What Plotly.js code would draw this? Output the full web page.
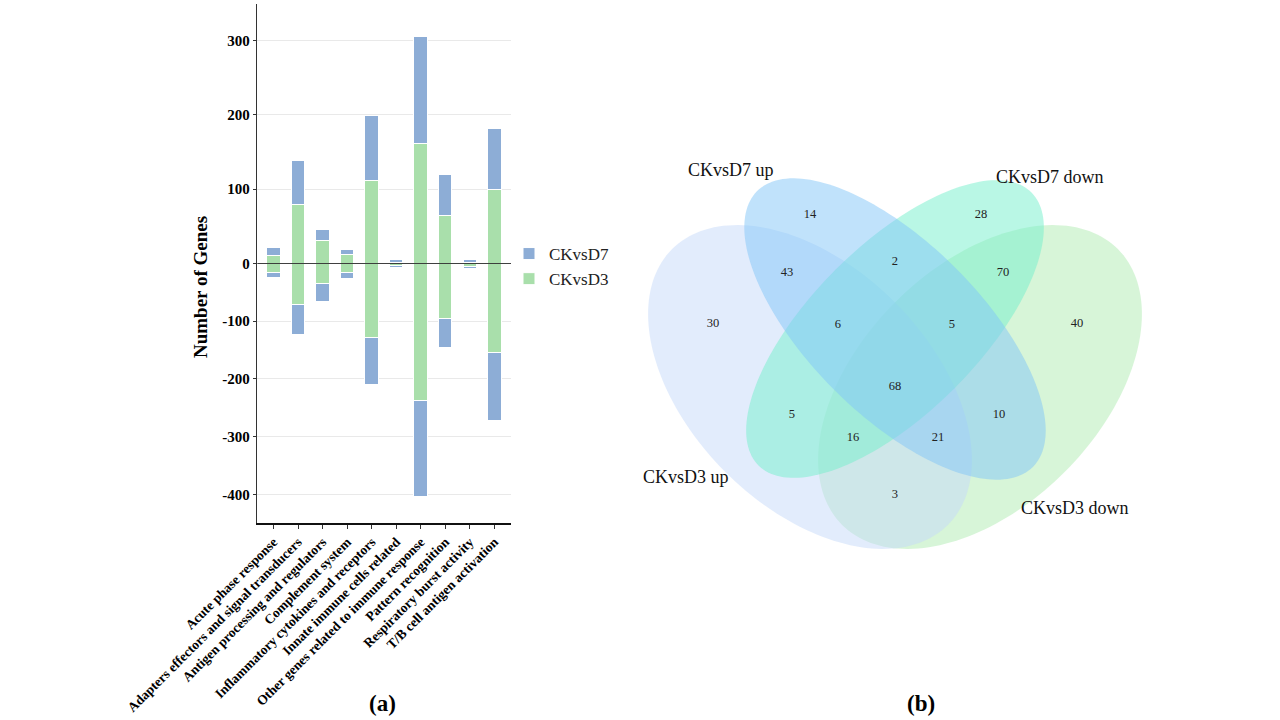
<!DOCTYPE html>
<html>
<head>
<meta charset="utf-8">
<script src="https://cdn.plot.ly/plotly-3.0.1.min.js"></script>
<style>html,body{margin:0;padding:0;background:#fff;}#chart{width:1280px;height:720px;}</style>
</head>
<body>
<div id="chart"></div>
<script>
// ---------- data (panel a) ----------
const categories = [
  "Acute phase response",
  "Adapters effectors and signal transducers",
  "Antigen processing and regulators",
  "Complement system",
  "Inflammatory cytokines and receptors",
  "Innate immune cells related",
  "Other genes related to immune response",
  "Pattern recognition",
  "Respiratory burst activity",
  "T/B cell antigen activation"
];
const d3Up   = [11, 79, 31, 12, 111, 1, 162, 65, 1, 100];
const d7Up   = [10, 60, 15, 7, 88, 4, 144, 55, 4, 82];
const d3Down = [-16, -72, -35, -16, -129, -4, -238, -95, -6, -154];
const d7Down = [-8, -52, -31, -10, -80, -3, -166, -50, -3, -118];
const posTicks = [100, 200, 300];
const negTicks = [0, -100, -200, -300, -400];

// ---------- data (panel b) ----------
const setNames = ["CKvsD3 up", "CKvsD7 up", "CKvsD7 down", "CKvsD3 down"];
const vennRegions = ["D7up only","D7down only","D3up&D7up","D7up&D7down","D7down&D3down","D3up only","D3up&D7up&D7down","D7up&D7down&D3down","D3down only","all","D3up&D7down","D7up&D3down","D3up&D7down&D3down","D3up&D7up&D3down","D3up&D3down"];
const vennCounts  = [14, 28, 43, 2, 70, 30, 6, 5, 40, 68, 5, 10, 16, 21, 3];

// ---------- layout helpers ----------
const W = 1280, H = 720;
const px = v => v / W, py = v => 1 - v / H;
const FONT = "Liberation Serif, Times New Roman, serif";
const BLUE = "#8DADD6", GREEN = "#A9DFAB";

// label positions (pixels) for the Venn counts, same order as vennCounts
const vennPosX = [810, 981, 787, 895, 1003, 713, 838, 952, 1077, 895, 792, 999, 853, 938, 895];
const vennPosY = [215, 215, 273, 262, 273, 324, 325, 325, 324, 387, 415, 415, 438, 438, 495];

const common = {type: "bar", width: 0.55, xaxis: "x", hoverinfo: "x+y"};

const traces = [
  Object.assign({}, common, {x: categories, y: d3Up, yaxis: "y", name: "CKvsD3",
    marker: {color: GREEN, line: {color: "#fff", width: 1}}, legendrank: 2, legendgroup: "d3"}),
  Object.assign({}, common, {x: categories, y: d7Up, yaxis: "y", name: "CKvsD7",
    marker: {color: BLUE, line: {color: "#fff", width: 1}}, legendrank: 1, legendgroup: "d7"}),
  Object.assign({}, common, {x: categories, y: d3Down, yaxis: "y2", name: "CKvsD3", showlegend: false,
    marker: {color: GREEN, line: {color: "#fff", width: 1}}, legendgroup: "d3"}),
  Object.assign({}, common, {x: categories, y: d7Down, yaxis: "y2", name: "CKvsD7", showlegend: false,
    marker: {color: BLUE, line: {color: "#fff", width: 1}}, legendgroup: "d7"}),
  {type: "scatter", mode: "text", x: vennPosX, y: vennPosY, text: vennCounts.map(String),
   customdata: vennRegions, xaxis: "x3", yaxis: "y3", showlegend: false,
   textfont: {family: FONT, size: 12.5, color: "#222"}, hovertemplate: "%{customdata}: %{text}<extra></extra>"}
];

// ellipse geometry (pixels): cx, cy, semi-major, semi-minor, direction (+1 = "\", -1 = "/")
const ellipses = [
  {cx: 980, cy: 387, a: 195, b: 120, dir: -1, color: "rgba(175,235,177,0.5)"}, // CKvsD3 down
  {cx: 810, cy: 387, a: 195, b: 120, dir: 1,  color: "rgba(197,217,249,0.5)"}, // CKvsD3 up
  {cx: 895, cy: 329, a: 193, b: 84,  dir: -1, color: "rgba(115,239,203,0.5)"}, // CKvsD7 down
  {cx: 895, cy: 329, a: 195, b: 86,  dir: 1,  color: "rgba(129,197,247,0.5)"}  // CKvsD7 up
];
function ellipsePath(e) {
  const n = 180, c = Math.SQRT1_2;
  let s = "";
  for (let i = 0; i < n; i++) {
    const t = 2 * Math.PI * i / n;
    const u = e.a * Math.cos(t), v = e.b * Math.sin(t);
    const x = e.cx + c * (u - e.dir * v);
    const y = e.cy + c * (e.dir * u + v);
    s += (i === 0 ? "M" : "L") + x.toFixed(2) + "," + y.toFixed(2);
  }
  return s + "Z";
}
const shapes = ellipses.map(e => ({type: "path", xref: "x3", yref: "y3", path: ellipsePath(e),
  fillcolor: e.color, line: {width: 0}, layer: "below"}));
shapes.push({type: "line", xref: "paper", yref: "y2", x0: px(257.3), x1: px(511), y0: 0, y1: 0,
  line: {color: "#000", width: 1.5}});

const ySplit = py(263.3);
const yTickFont = {family: FONT, size: 15, color: "#000", weight: "bold"};
const layout = {
  width: W, height: H, margin: {l: 0, r: 0, t: 0, b: 0},
  paper_bgcolor: "#fff", plot_bgcolor: "rgba(0,0,0,0)",
  barmode: "stack",
  font: {family: FONT},
  xaxis: {domain: [px(257.3), px(511)], anchor: "y2", range: [-0.66, 9.68], type: "category",
    showline: true, linecolor: "#111", linewidth: 1.5, ticks: "outside", ticklen: 4,
    tickcolor: "#333", tickwidth: 1, tickangle: -45, showgrid: false, zeroline: false,
    tickfont: {family: FONT, size: 13.5, color: "#000", weight: "bold"}},
  yaxis: {domain: [ySplit, py(4)], anchor: "x", range: [0, 349.5], tickmode: "array",
    tickvals: posTicks, ticktext: posTicks.map(String), showline: true, linecolor: "#333",
    linewidth: 1.5, ticks: "outside", ticklen: 3, tickcolor: "#333", gridcolor: "#e9e9e9",
    zeroline: false, tickfont: yTickFont},
  yaxis2: {domain: [py(523.3), ySplit], anchor: "x", range: [-450, 0], tickmode: "array",
    tickvals: negTicks, ticktext: negTicks.map(String), showline: true, linecolor: "#333",
    linewidth: 1.5, ticks: "outside", ticklen: 3, tickcolor: "#333", gridcolor: "#e9e9e9",
    zeroline: false, tickfont: yTickFont},
  xaxis3: {domain: [0.48, 1], range: [614.4, 1280], visible: false, fixedrange: true},
  yaxis3: {domain: [0, 1], range: [720, 0], visible: false, fixedrange: true, anchor: "x3"},
  legend: {x: px(509), y: py(236), xanchor: "left", yanchor: "top", bgcolor: "rgba(0,0,0,0)",
    font: {family: FONT, size: 17, color: "#222"}, traceorder: "normal"},
  shapes: shapes,
  annotations: [
    {text: "Number of Genes", xref: "paper", yref: "paper", x: px(200), y: py(287), textangle: -90,
     xanchor: "center", yanchor: "middle",
     showarrow: false, font: {family: FONT, size: 19, color: "#000", weight: "bold"}},
    {text: "(a)", xref: "paper", yref: "paper", x: px(382), y: py(703), xanchor: "center", yanchor: "middle",
     showarrow: false, font: {family: FONT, size: 23, color: "#000", weight: "bold"}},
    {text: "(b)", xref: "paper", yref: "paper", x: px(921), y: py(703), xanchor: "center", yanchor: "middle",
     showarrow: false, font: {family: FONT, size: 23, color: "#000", weight: "bold"}},
    {text: setNames[1], xref: "x3", yref: "y3", x: 731, y: 170, showarrow: false,
     font: {family: FONT, size: 18, color: "#111"}},
    {text: setNames[2], xref: "x3", yref: "y3", x: 1050, y: 177, showarrow: false,
     font: {family: FONT, size: 18, color: "#111"}},
    {text: setNames[0], xref: "x3", yref: "y3", x: 686, y: 477, showarrow: false,
     font: {family: FONT, size: 18, color: "#111"}},
    {text: setNames[3], xref: "x3", yref: "y3", x: 1075, y: 508, showarrow: false,
     font: {family: FONT, size: 18, color: "#111"}}
  ]
};
Plotly.newPlot("chart", traces, layout, {displayModeBar: false, staticPlot: true});
</script>
</body>
</html>
